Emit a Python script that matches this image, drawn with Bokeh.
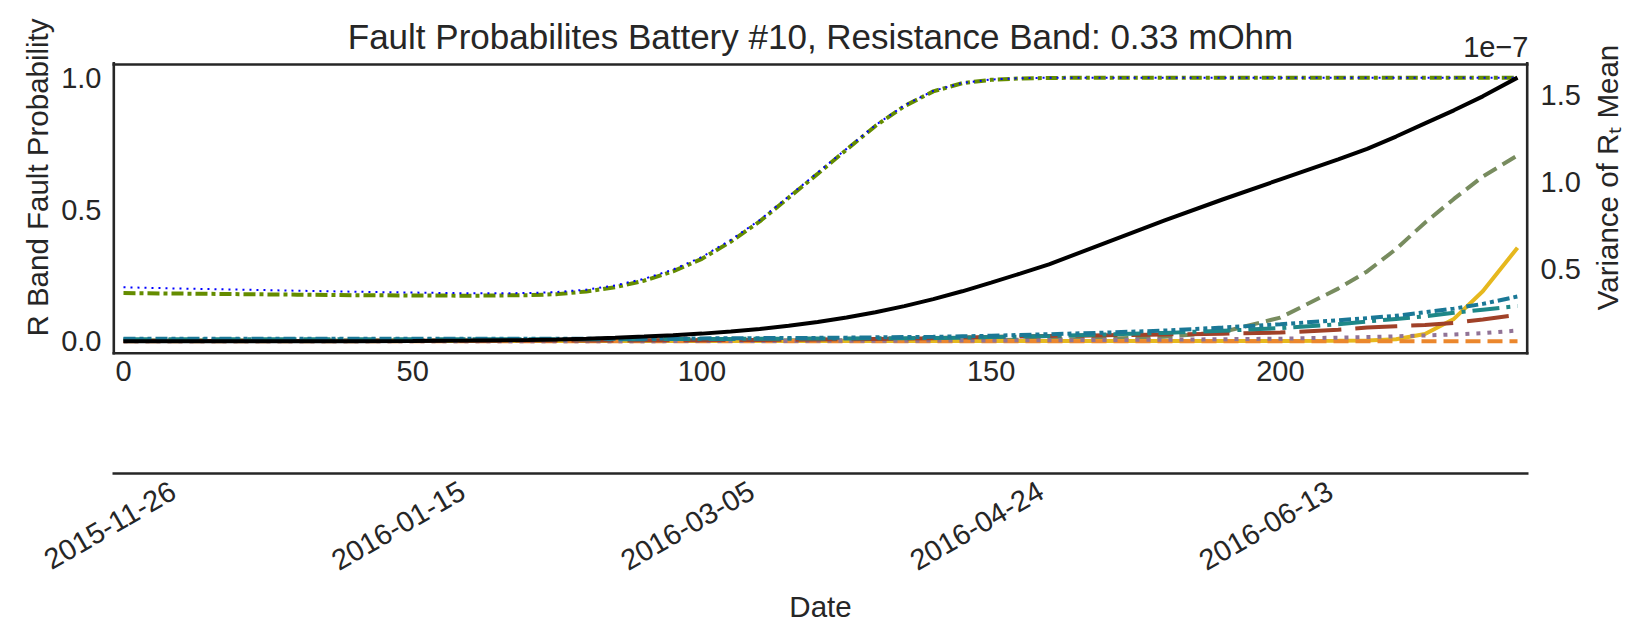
from math import pi
from bokeh.plotting import figure
from bokeh.layouts import row
from bokeh.models import (Range1d, LinearAxis, FixedTicker, PrintfTickFormatter,
                          CustomJSTickFormatter, Title)
from bokeh.core.properties import value
from bokeh.embed import file_html
from bokeh.resources import INLINE

# ---------------- data ----------------
day_index = [0, 10, 20, 30, 40, 50, 60, 70, 75, 80, 85, 90, 95, 100, 105, 110, 115, 120,
             125, 130, 135, 140, 145, 150, 155, 160, 170, 180, 190, 200, 210, 215, 220,
             225, 230, 235, 241]

# left axis: R band fault probabilities
prob_blue_dotted = [0.205, 0.200, 0.196, 0.192, 0.188, 0.185, 0.182, 0.183, 0.187, 0.196,
                    0.212, 0.237, 0.272, 0.320, 0.385, 0.460, 0.550, 0.640, 0.730, 0.820,
                    0.895, 0.950, 0.980, 0.993, 0.998, 1.0, 1.0, 1.0, 1.0, 1.0, 1.0, 1.0,
                    1.0, 1.0, 1.0, 1.0, 1.0]
prob_olive_dashdot = [0.183, 0.181, 0.179, 0.177, 0.175, 0.174, 0.173, 0.175, 0.179, 0.189,
                      0.205, 0.230, 0.265, 0.313, 0.378, 0.455, 0.545, 0.635, 0.727, 0.817,
                      0.892, 0.948, 0.979, 0.992, 0.997, 0.999, 1.0, 1.0, 1.0, 1.0, 1.0,
                      1.0, 1.0, 1.0, 1.0, 1.0, 1.0]
prob_sage_dashed = [0.004, 0.004, 0.004, 0.004, 0.004, 0.004, 0.004, 0.004, 0.004, 0.004,
                    0.004, 0.004, 0.004, 0.004, 0.004, 0.004, 0.004, 0.004, 0.004, 0.004,
                    0.004, 0.004, 0.004, 0.005, 0.006, 0.007, 0.010, 0.017, 0.035, 0.090,
                    0.200, 0.265, 0.350, 0.450, 0.540, 0.625, 0.705]
prob_gold_solid = [0.001, 0.001, 0.001, 0.001, 0.001, 0.001, 0.001, 0.001, 0.001, 0.001,
                   0.001, 0.001, 0.001, 0.001, 0.001, 0.001, 0.001, 0.001, 0.001, 0.001,
                   0.001, 0.001, 0.001, 0.001, 0.001, 0.001, 0.001, 0.001, 0.001, 0.001,
                   0.002, 0.003, 0.008, 0.028, 0.085, 0.190, 0.355]
prob_steel_dashdotdot = [0.010, 0.010, 0.010, 0.010, 0.010, 0.010, 0.010, 0.010, 0.010, 0.010,
                         0.010, 0.010, 0.011, 0.011, 0.012, 0.012, 0.013, 0.013, 0.014, 0.015,
                         0.016, 0.017, 0.019, 0.021, 0.024, 0.027, 0.033, 0.041, 0.052, 0.065,
                         0.080, 0.088, 0.097, 0.110, 0.124, 0.142, 0.170]
prob_teal_dashdot = [0.008, 0.008, 0.008, 0.008, 0.008, 0.008, 0.008, 0.008, 0.008, 0.008,
                     0.008, 0.008, 0.009, 0.009, 0.009, 0.010, 0.010, 0.011, 0.011, 0.012,
                     0.012, 0.013, 0.014, 0.016, 0.018, 0.020, 0.026, 0.032, 0.040, 0.050,
                     0.065, 0.075, 0.085, 0.095, 0.108, 0.120, 0.134]
prob_rust_longdash = [0.001, 0.001, 0.001, 0.001, 0.002, 0.002, 0.002, 0.003, 0.003, 0.003,
                      0.003, 0.004, 0.004, 0.004, 0.005, 0.005, 0.006, 0.007, 0.008, 0.009,
                      0.010, 0.012, 0.014, 0.016, 0.018, 0.020, 0.023, 0.026, 0.029, 0.033,
                      0.044, 0.052, 0.057, 0.062, 0.070, 0.083, 0.100]
prob_mauve_dotted = [0.0, 0.0, 0.0, 0.0, 0.0, 0.0, 0.0, 0.0, 0.0, 0.0, 0.0, 0.0, 0.001,
                     0.001, 0.001, 0.001, 0.001, 0.002, 0.002, 0.002, 0.002, 0.003, 0.003,
                     0.003, 0.004, 0.004, 0.005, 0.006, 0.008, 0.010, 0.014, 0.016, 0.019,
                     0.022, 0.026, 0.031, 0.041]
prob_orange_dashed = [0.0] * 37

# right axis: variance of R_t mean (units of 1e-7)
var_rt_mean_e7 = [0.089, 0.089, 0.089, 0.089, 0.090, 0.091, 0.093, 0.097, 0.100, 0.104,
                  0.109, 0.116, 0.124, 0.133, 0.145, 0.160, 0.178, 0.200, 0.225, 0.255,
                  0.290, 0.330, 0.375, 0.425, 0.476, 0.529, 0.655, 0.780, 0.900, 1.015,
                  1.130, 1.190, 1.260, 1.335, 1.410, 1.490, 1.597]
var_rt_mean = [v * 1e-7 for v in var_rt_mean_e7]

index_ticks = [0, 50, 100, 150, 200]
prob_ticks = [0.0, 0.5, 1.0]
var_ticks = [0.5e-7, 1.0e-7, 1.5e-7]
date_ticks = [0, 50, 100, 150, 200]
date_labels = ["2015-11-26", "2016-01-15", "2016-03-05", "2016-04-24", "2016-06-13"]

title_text = "Fault Probabilites Battery #10, Resistance Band: 0.33 mOhm"
left_label_text = "R Band Fault Probability"
right_label_text = "Variance of R\u209c Mean"
offset_text = "1e\u22127"

# ---------------- styling / layout constants ----------------
FONT = "Liberation Sans"
TXT = "#262626"
TICK_FS = "29px"
LAB_FS = "29.5px"
TITLE_FS = "35px"

CANVAS_H = 644
FRAME_L, FRAME_R, FRAME_T, FRAME_B = 112, 1528, 64, 354   # axes box on the page
FRAME_H = FRAME_B - FRAME_T
RIGHT_BORDER, SIDE_W = 60, 47
MAIN_W = FRAME_R + RIGHT_BORDER
BOTTOM = CANVAS_H - FRAME_B
TITLE_RISE, OFFSET_RISE = 28, 18   # text anchors above the box top, in px

x_lo, x_hi = -1.9, 242.9
y_lo, y_hi = -0.05, 1.05
v_lo, v_hi = 0.0136e-7, 1.672e-7
label_shift = 8.6  # horizontal re-centering of the rotated date labels (in days)

px_y = (y_hi - y_lo) / FRAME_H
px_v = (v_hi - v_lo) / FRAME_H

x_range = Range1d(x_lo, x_hi)
# the plotting frame reaches up to the page top so the title can sit above the box
y_range = Range1d(y_lo, y_hi + FRAME_T * px_y)

p = figure(width=MAIN_W, height=CANVAS_H, output_backend="svg", toolbar_location=None,
           title=None, x_range=x_range, y_range=y_range,
           min_border_left=FRAME_L, min_border_right=RIGHT_BORDER,
           min_border_top=0, min_border_bottom=BOTTOM)
p.extra_y_ranges = {"var": Range1d(v_lo, v_hi + FRAME_T * px_v)}
p.extra_x_ranges = {"date": Range1d(x_lo - label_shift, x_hi - label_shift)}

p.background_fill_color = "white"
p.border_fill_color = "white"
p.outline_line_color = None
p.xgrid.visible = False
p.ygrid.visible = False


def style_axis(ax):
    ax.axis_line_color = None
    ax.major_tick_line_color = None
    ax.minor_tick_line_color = None
    ax.major_tick_out = 0
    ax.major_tick_in = 0
    ax.minor_tick_out = 0
    ax.minor_tick_in = 0
    ax.major_label_text_font = FONT
    ax.major_label_text_font_size = TICK_FS
    ax.major_label_text_color = TXT
    ax.axis_label_text_font = FONT
    ax.axis_label_text_font_size = LAB_FS
    ax.axis_label_text_font_style = "normal"
    ax.axis_label_text_color = TXT


def side_title(text, standoff):
    # centred on the axes box (the frame extends FRAME_T px above it)
    return Title(text=text, align="center", offset=-FRAME_T / 2, standoff=standoff,
                 text_font=FONT, text_font_size=LAB_FS, text_font_style="normal",
                 text_color=TXT)


# left axis
yax = p.yaxis[0]
style_axis(yax)
yax.ticker = FixedTicker(ticks=prob_ticks)
yax.formatter = PrintfTickFormatter(format="%.1f")
yax.major_label_standoff = 11
p.add_layout(side_title(left_label_text, 10), "left")

# bottom index axis
xax = p.xaxis[0]
style_axis(xax)
xax.ticker = FixedTicker(ticks=index_ticks)
xax.major_label_standoff = 6
xax.axis_label = " "
xax.axis_label_standoff = 54

# right axis (its title is drawn in the right strip so that it reads upwards)
rax = LinearAxis(y_range_name="var")
style_axis(rax)
rax.ticker = FixedTicker(ticks=var_ticks)
rax.formatter = CustomJSTickFormatter(code="return (tick / 1e-7).toFixed(1);")
rax.major_label_standoff = 12
p.add_layout(rax, "right")

# date axis
dax = LinearAxis(x_range_name="date")
style_axis(dax)
dax.axis_line_color = TXT
dax.axis_line_width = 2.6
dax.ticker = FixedTicker(ticks=date_ticks)
dax.major_label_overrides = {t: s for t, s in zip(date_ticks, date_labels)}
dax.major_label_orientation = pi / 6
dax.major_label_standoff = 15
dax.axis_label = "Date"
dax.axis_label_standoff = 7
p.add_layout(dax, "below")

# lines (left axis)
p.line(day_index, prob_sage_dashed, line_color="#788c5f", line_width=4, line_dash="15 7")
p.line(day_index, prob_gold_solid, line_color="#e6b81e", line_width=4)
p.line(day_index, prob_orange_dashed, line_color="#eb872d", line_width=4, line_dash="15 7")
p.line(day_index, prob_mauve_dotted, line_color="#917396", line_width=4, line_dash="4 7")
p.line(day_index, prob_rust_longdash, line_color="#a04128", line_width=4, line_dash="42 14")
p.line(day_index, prob_teal_dashdot, line_color="#1e8787", line_width=4, line_dash="27 7 4 7")
p.line(day_index, prob_steel_dashdotdot, line_color="#1a7896", line_width=4,
       line_dash="12 4 4 4 4 4")
p.line(day_index, prob_olive_dashdot, line_color="#648c00", line_width=4, line_dash="12 4 4 4")
p.line(day_index, prob_blue_dotted, line_color="#0000ff", line_width=2, line_dash="2 5")

# line (right axis)
p.line(day_index, var_rt_mean, line_color="black", line_width=4, y_range_name="var")

# axes box (spines); the left/right/bottom ones lie on the frame edge, half clipped
p.segment(x0=[x_lo, x_hi, x_lo], y0=[y_lo, y_lo, y_lo], x1=[x_lo, x_hi, x_hi],
          y1=[y_hi, y_hi, y_lo], line_color=TXT, line_width=5.2, line_cap="square")
p.segment(x0=[x_lo], y0=[y_hi], x1=[x_hi], y1=[y_hi], line_color=TXT, line_width=2.6,
          line_cap="square")

# title and right-axis offset text above the box
p.text(x=[(x_lo + x_hi) / 2], y=[y_hi + TITLE_RISE * px_y], text=[title_text],
       text_font=value(FONT), text_font_size=value(TITLE_FS), text_color=TXT,
       text_align="center", text_baseline="alphabetic")
p.text(x=[x_hi], y=[y_hi + OFFSET_RISE * px_y], text=[offset_text], text_font=value(FONT),
       text_font_size=value(TICK_FS), text_color=TXT, text_align="right",
       text_baseline="alphabetic")

# strip right of the plot carrying the right axis title (reads upwards)
side = figure(width=SIDE_W, height=CANVAS_H, output_backend="svg", toolbar_location=None,
              title=None, x_range=Range1d(0, 1), y_range=y_range,
              x_axis_location=None, y_axis_location=None,
              min_border_left=0, min_border_right=0, min_border_top=0,
              min_border_bottom=BOTTOM)
side.outline_line_color = None
side.background_fill_color = "white"
side.border_fill_color = "white"
side.xgrid.visible = False
side.ygrid.visible = False
side.add_layout(side_title(right_label_text, 0), "left")

layout = row(p, side, spacing=0)

open("out.html", "w").write(file_html(layout, INLINE))
